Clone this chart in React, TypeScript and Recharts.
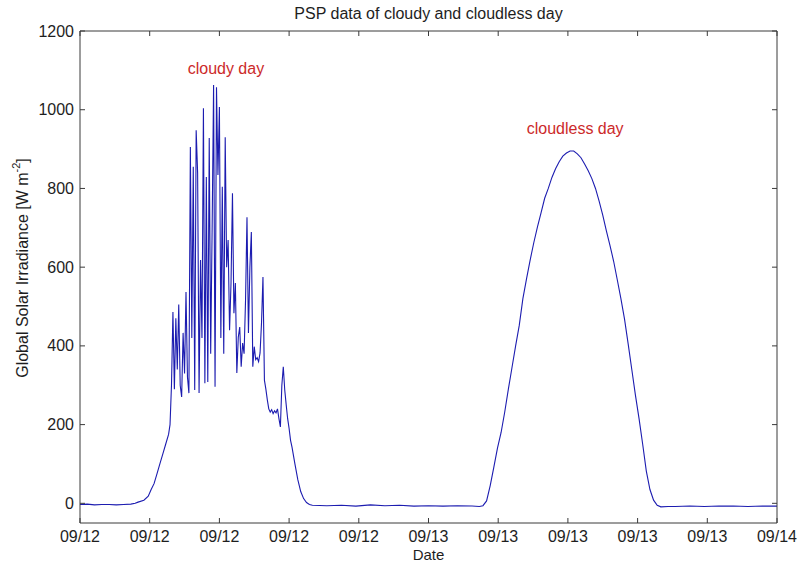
import React from 'react';
import { LineChart, Line, XAxis, YAxis, ReferenceDot } from 'recharts';

// Time in hours since 09/12 00:00, irradiance in W m^-2
const dawnHours = [0, 0.5, 1, 1.5, 2, 2.5, 3, 3.5, 3.8, 4.0, 4.4, 4.7, 4.9, 5.1, 5.3, 5.5, 5.7, 5.9, 6.1, 6.2];
const dawnIrr = [-3, -2, -4, -3, -3, -4, -3, -2, 0, 3, 8, 18, 35, 50, 75, 100, 125, 150, 175, 200];

const cloudyHours = [
  6.3, 6.4, 6.5, 6.6, 6.7, 6.8, 6.9, 7.0, 7.1, 7.2, 7.3, 7.4, 7.5, 7.6, 7.7, 7.8, 7.9, 8.0, 8.1, 8.2,
  8.3, 8.4, 8.5, 8.6, 8.7, 8.8, 8.9, 9.0, 9.1, 9.2, 9.3, 9.4, 9.5, 9.6, 9.7, 9.8, 9.9, 10.0, 10.1, 10.2,
  10.3, 10.4, 10.5, 10.6, 10.7, 10.8, 10.9, 11.0, 11.1, 11.2, 11.3, 11.4, 11.5, 11.6, 11.7, 11.8, 11.9, 12.0,
  12.1, 12.2, 12.3, 12.4, 12.5, 12.6, 12.7, 12.8, 12.9, 13.0, 13.1, 13.2, 13.3, 13.4, 13.5, 13.6, 13.7, 13.8,
  13.9, 14.0, 14.1, 14.2, 14.3, 14.4, 14.5, 14.6, 14.8, 15.0, 15.2, 15.4, 15.6, 15.8, 16.0,
];
const cloudyIrr = [
  300, 486, 290, 470, 340, 505, 300, 270, 433, 330, 537, 321, 280, 905, 420, 855, 288, 948, 839, 280,
  618, 420, 1004, 305, 829, 308, 928, 380, 700, 1063, 296, 1057, 834, 1007, 420, 804, 380, 930, 600, 669,
  440, 560, 788, 483, 560, 331, 422, 448, 347, 407, 380, 516, 727, 433, 600, 689, 347, 398,
  365, 370, 360, 382, 458, 575, 313, 290, 263, 240, 232, 238, 228, 235, 230, 240, 215, 194,
  300, 347, 288, 250, 215, 190, 160, 143, 100, 60, 30, 12, 2, -3, -5,
];

const nightHours = [17, 18, 19, 20, 21, 22, 23, 24, 25, 26, 27, 27.5];
const nightIrr = [-6, -5, -7, -4, -6, -5, -7, -6, -7, -6, -7, -8];

const clearHours = [
  27.75, 28.0, 28.25, 28.5, 28.75, 29.0, 29.25, 29.5, 29.75, 30.0, 30.25, 30.5, 30.75, 31.0, 31.25, 31.5,
  31.75, 32.0, 32.25, 32.5, 32.75, 33.0, 33.25, 33.5, 33.75, 34.0, 34.25, 34.5, 34.75, 35.0, 35.25, 35.5,
  35.75, 36.0, 36.25, 36.5, 36.75, 37.0, 37.25, 37.5, 37.75, 38.0, 38.25, 38.5, 38.75, 39.0, 39.25, 39.5,
  39.75, 40.0, 40.5,
];
const clearIrr = [
  -6, 6, 45, 92, 140, 180, 232, 290, 345, 400, 452, 520, 570, 618, 662, 702,
  738, 775, 800, 828, 850, 868, 882, 890, 895, 895, 888, 878, 862, 845, 825, 800,
  768, 732, 692, 655, 615, 568, 520, 468, 405, 340, 275, 215, 150, 82, 35, 8,
  -5, -9, -8,
];

const lateHours = [41, 42, 43, 44, 45, 46, 47, 48];
const lateIrr = [-8, -7, -8, -7, -7, -8, -7, -7];

const xTicks = [0, 4.8, 9.6, 14.4, 19.2, 24, 28.8, 33.6, 38.4, 43.2, 48];
const xTickLabels = ['09/12', '09/12', '09/12', '09/12', '09/12', '09/13', '09/13', '09/13', '09/13', '09/13', '09/14'];
const yTicks = [0, 200, 400, 600, 800, 1000, 1200];

const annotations = [
  { h: 10.05, v: 1104, text: 'cloudy day' },
  { h: 34.1, v: 952, text: 'cloudless day' },
];

const allHours = [...dawnHours, ...cloudyHours, ...nightHours, ...clearHours, ...lateHours];
const allIrr = [...dawnIrr, ...cloudyIrr, ...nightIrr, ...clearIrr, ...lateIrr];
const data = allHours.map((h, i) => ({ h, v: allIrr[i] }));

const FONT = "'Liberation Sans', Arial, Helvetica, sans-serif";
const AXIS = '#3a3a3a';
const TEXT = '#1e1e1e';
const LINE = '#1c1cb0';
const RED = '#cc2a2a';

const labelFor = (value: number) => {
  const i = xTicks.findIndex((t) => Math.abs(t - value) < 1e-6);
  return i >= 0 ? xTickLabels[i] : '';
};

const BottomTick = (props: any) => {
  const { x, y, payload } = props;
  return (
    <g>
      <line x1={x} y1={y} x2={x} y2={y - 5} stroke={AXIS} strokeWidth={1} />
      <text x={x} y={y + 19} textAnchor="middle" fontSize={16} fill={TEXT} fontFamily={FONT}>
        {labelFor(payload.value)}
      </text>
    </g>
  );
};

const TopTick = (props: any) => {
  const { x, y } = props;
  return <line x1={x} y1={y} x2={x} y2={y + 5} stroke={AXIS} strokeWidth={1} />;
};

const LeftTick = (props: any) => {
  const { x, y, payload } = props;
  return (
    <g>
      <line x1={x} y1={y} x2={x + 5} y2={y} stroke={AXIS} strokeWidth={1} />
      <text x={x - 6} y={y + 5.5} textAnchor="end" fontSize={16} fill={TEXT} fontFamily={FONT}>
        {payload.value}
      </text>
    </g>
  );
};

const RightTick = (props: any) => {
  const { x, y } = props;
  return <line x1={x} y1={y} x2={x - 5} y2={y} stroke={AXIS} strokeWidth={1} />;
};

const YTitle = (props: any) => {
  const vb = props.viewBox || { x: 0, y: 31, width: 80, height: 492 };
  const cx = 22;
  const cy = vb.y + vb.height / 2 - 9;
  return (
    <text
      x={cx}
      y={cy}
      textAnchor="middle"
      dominantBaseline="central"
      transform={`rotate(-90, ${cx}, ${cy})`}
      fontSize={16}
      fill={TEXT}
      fontFamily={FONT}
    >
      Global Solar Irradiance [W m
      <tspan dy={-6} fontSize={11}>-2</tspan>
      <tspan dy={6}>]</tspan>
    </text>
  );
};

const XTitle = (props: any) => {
  const vb = props.viewBox || { x: 80, y: 523, width: 697, height: 42 };
  return (
    <text x={vb.x + vb.width / 2} y={vb.y + 37} textAnchor="middle" fontSize={15} fill={TEXT} fontFamily={FONT}>
      Date
    </text>
  );
};

export default function App() {
  return (
    <div style={{ position: 'absolute', left: 0, top: 0, width: 800, height: 565, background: '#fff', fontFamily: FONT }}>
      <div
        style={{
          position: 'absolute',
          left: 0,
          top: 4,
          width: 857,
          textAlign: 'center',
          fontSize: 16,
          lineHeight: '20px',
          color: TEXT,
        }}
      >
        PSP data of cloudy and cloudless day
      </div>
      <LineChart width={800} height={565} data={data} margin={{ top: 30, right: 22, left: 0, bottom: 0 }}>
        <XAxis
          dataKey="h"
          type="number"
          domain={[0, 48]}
          ticks={xTicks}
          interval={0}
          height={42}
          tickSize={0}
          tickMargin={0}
          tickLine={false}
          tick={BottomTick}
          axisLine={{ stroke: AXIS, strokeWidth: 1 }}
          allowDataOverflow
          label={{ content: XTitle }}
        />
        <XAxis
          xAxisId="top"
          dataKey="h"
          orientation="top"
          type="number"
          domain={[0, 48]}
          ticks={xTicks}
          interval={0}
          height={1}
          tickSize={0}
          tickMargin={0}
          tickLine={false}
          tick={TopTick}
          axisLine={{ stroke: AXIS, strokeWidth: 1 }}
          allowDataOverflow
        />
        <YAxis
          type="number"
          domain={[-50, 1200]}
          ticks={yTicks}
          interval={0}
          width={80}
          tickSize={0}
          tickMargin={0}
          tickLine={false}
          tick={LeftTick}
          axisLine={{ stroke: AXIS, strokeWidth: 1 }}
          allowDataOverflow
          label={{ content: YTitle }}
        />
        <YAxis
          yAxisId="right"
          orientation="right"
          type="number"
          domain={[-50, 1200]}
          ticks={yTicks}
          interval={0}
          width={1}
          tickSize={0}
          tickMargin={0}
          tickLine={false}
          tick={RightTick}
          axisLine={{ stroke: AXIS, strokeWidth: 1 }}
          allowDataOverflow
        />
        <Line
          xAxisId="top"
          yAxisId="right"
          type="linear"
          dataKey="v"
          stroke="none"
          strokeWidth={0}
          dot={false}
          activeDot={false}
          isAnimationActive={false}
        />
        <Line
          type="linear"
          dataKey="v"
          stroke={LINE}
          strokeWidth={1.1}
          dot={false}
          activeDot={false}
          isAnimationActive={false}
        />
        {annotations.map((a) => (
          <ReferenceDot
            key={a.text}
            x={a.h}
            y={a.v}
            r={0}
            fill="none"
            stroke="none"
            label={{ value: a.text, position: 'center', fill: RED, fontSize: 16, fontFamily: FONT }}
          />
        ))}
      </LineChart>
    </div>
  );
}
